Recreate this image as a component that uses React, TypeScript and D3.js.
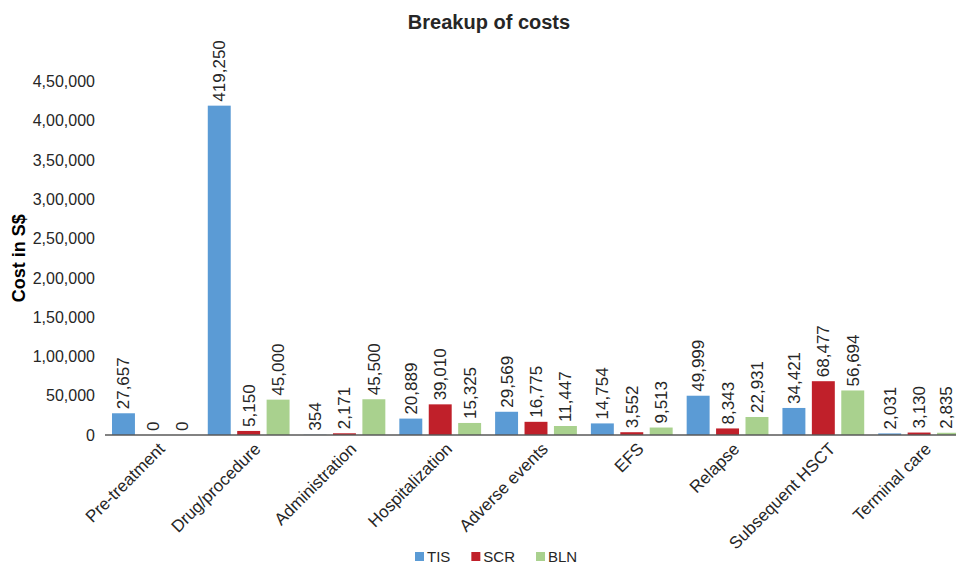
import { useEffect, useRef } from 'react';
import * as d3 from 'd3';

const categories = [
  'Pre-treatment',
  'Drug/procedure',
  'Administration',
  'Hospitalization',
  'Adverse events',
  'EFS',
  'Relapse',
  'Subsequent HSCT',
  'Terminal care',
];
const seriesNames = ['TIS', 'SCR', 'BLN'];
const tisValues = [27657, 419250, 354, 20889, 29569, 14754, 49999, 34421, 2031];
const scrValues = [0, 5150, 2171, 39010, 16775, 3552, 8343, 68477, 3130];
const blnValues = [0, 45000, 45500, 15325, 11447, 9513, 22931, 56694, 2835];
const yTicks = [0, 50000, 100000, 150000, 200000, 250000, 300000, 350000, 400000, 450000];

const colors = ['#5b9bd5', '#c0202a', '#a9d18e'];
const font = '"Liberation Sans", Arial, sans-serif';

// Indian digit grouping: 4,50,000
const fmtIndian = (v: number) => {
  const s = String(Math.round(v));
  if (s.length <= 3) return s;
  const last = s.slice(-3);
  const rest = s.slice(0, -3).replace(/\B(?=(\d{2})+(?!\d))/g, ',');
  return `${rest},${last}`;
};
const fmtValue = d3.format(',');

export default function App() {
  const ref = useRef<SVGSVGElement | null>(null);

  useEffect(() => {
    if (!ref.current) return;
    const width = 956;
    const height = 565;
    // plot area runs a bit past the right edge (last bar is clipped)
    const plot = { left: 105, right: 967, top: 81.5, bottom: 435 };

    const svg = d3.select(ref.current);
    svg.selectAll('*').remove();

    const values = [tisValues, scrValues, blnValues];
    const rows = categories.map((c, i) => ({ cat: c, vals: values.map(v => v[i]) }));

    const x0 = d3.scaleBand().domain(categories).range([plot.left, plot.right]);
    const x1 = d3
      .scaleBand()
      .domain(seriesNames)
      .range([7, x0.bandwidth() - 7])
      .paddingInner(0.22);
    const y = d3.scaleLinear().domain([0, 450000]).range([plot.bottom, plot.top]);

    svg
      .append('text')
      .attr('x', 489)
      .attr('y', 29)
      .attr('text-anchor', 'middle')
      .attr('font-family', font)
      .attr('font-weight', 'bold')
      .attr('font-size', 20)
      .attr('fill', '#262626')
      .text('Breakup of costs');

    svg
      .append('text')
      .attr('transform', `translate(25,${y(225000)}) rotate(-90)`)
      .attr('text-anchor', 'middle')
      .attr('font-family', font)
      .attr('font-weight', 'bold')
      .attr('font-size', 18)
      .attr('fill', '#000')
      .text('Cost in S$');

    const yAxis = svg
      .append('g')
      .attr('transform', `translate(${plot.left},0)`)
      .call(d3.axisLeft(y).tickValues(yTicks).tickFormat(d => fmtIndian(+d)).tickSize(0).tickPadding(10));
    yAxis.select('.domain').remove();
    yAxis
      .selectAll('text')
      .attr('font-family', font)
      .attr('font-size', 16)
      .attr('fill', '#262626');

    const groups = svg
      .append('g')
      .selectAll('g')
      .data(rows)
      .join('g')
      .attr('transform', d => `translate(${x0(d.cat)},0)`);

    groups
      .selectAll('rect')
      .data(d => d.vals.map((v, i) => ({ key: seriesNames[i], v, i })))
      .join('rect')
      .attr('x', d => x1(d.key)!)
      .attr('y', d => y(d.v))
      .attr('width', x1.bandwidth())
      .attr('height', d => y(0) - y(d.v))
      .attr('fill', d => colors[d.i]);

    // value labels; keep the last one inside the page edge
    groups.each(function (d) {
      const gx = x0(d.cat)!;
      d3.select(this)
        .selectAll('text')
        .data(d.vals.map((v, i) => ({ key: seriesNames[i], v, i })))
        .join('text')
        .attr('transform', e => {
          const bx = Math.min(x1(e.key)! + x1.bandwidth() / 2 + 6, width - 4 - gx);
          return `translate(${bx},${y(e.v) - 4}) rotate(-90)`;
        })
        .attr('font-family', font)
        .attr('font-size', 17)
        .attr('fill', '#262626')
        .text(e => fmtValue(e.v));
    });

    svg
      .append('line')
      .attr('x1', plot.left)
      .attr('x2', width)
      .attr('y1', y(0))
      .attr('y2', y(0))
      .attr('stroke', '#595959')
      .attr('stroke-width', 1.5);

    svg
      .append('g')
      .selectAll('text')
      .data(categories)
      .join('text')
      .attr('transform', d => `translate(${x0(d)! + x0.bandwidth() / 2 + 13},${y(0) + 15}) rotate(-45)`)
      .attr('text-anchor', 'end')
      .attr('font-family', font)
      .attr('font-size', 17)
      .attr('fill', '#262626')
      .text(d => d);

    // legend laid out by measured text width
    const legend = svg.append('g').attr('transform', `translate(0,${height - 3})`);
    let lx = 415;
    seriesNames.forEach((name, i) => {
      legend
        .append('rect')
        .attr('x', lx)
        .attr('y', -10)
        .attr('width', 9)
        .attr('height', 9)
        .attr('fill', colors[i]);
      const t = legend
        .append('text')
        .attr('x', lx + 12)
        .attr('y', 0)
        .attr('font-family', font)
        .attr('font-size', 15)
        .attr('fill', '#262626')
        .text(name);
      const w = (t.node() as SVGTextElement).getComputedTextLength();
      lx += 12 + w + 21;
    });
  }, []);

  return <svg ref={ref} width={956} height={565} style={{ display: 'block', position: 'absolute', left: 0, top: 0 }} />;
}
